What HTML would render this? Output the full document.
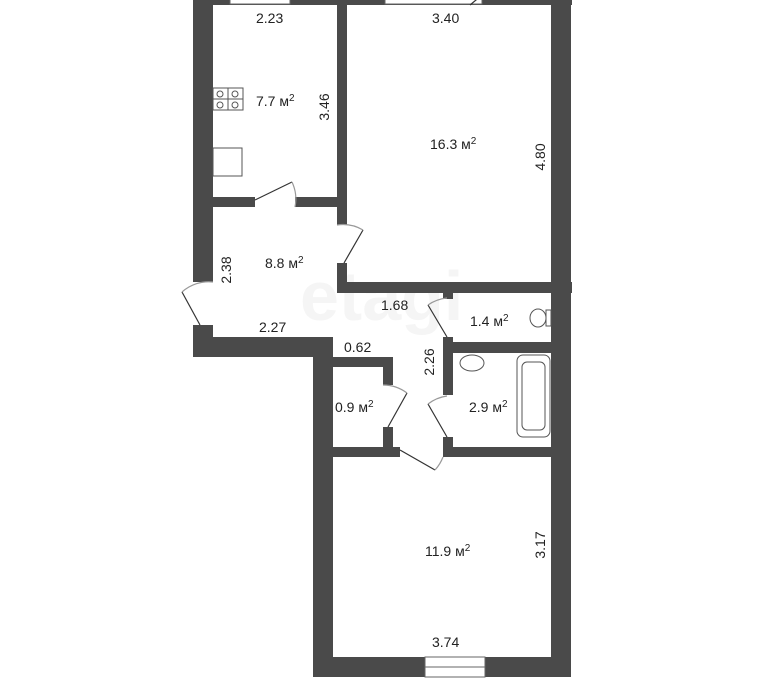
<!DOCTYPE html>
<html><head><meta charset="utf-8"><style>
html,body{margin:0;padding:0;background:#fff;width:768px;height:688px;overflow:hidden}
svg{display:block}
text{font-family:"Liberation Sans",sans-serif;font-size:14px;fill:#222}
</style></head><body>
<svg width="768" height="688" viewBox="0 0 768 688" xmlns="http://www.w3.org/2000/svg">
<text x="300" y="320" style="font-size:70px;fill:#f5f5f5;font-weight:bold">etagi</text>
<g fill="#4a4a4a">
<rect x="193" y="0" width="379" height="5"/>
<rect x="193" y="0" width="20" height="282"/>
<rect x="193" y="325" width="20" height="32"/>
<rect x="337" y="0" width="10" height="225"/>
<rect x="337" y="263" width="10" height="30"/>
<rect x="213" y="197" width="42" height="10"/>
<rect x="295" y="197" width="42" height="10"/>
<rect x="337" y="282" width="235" height="11"/>
<rect x="551" y="0" width="20" height="677"/>
<rect x="193" y="337" width="140" height="20"/>
<rect x="313" y="337" width="20" height="340"/>
<rect x="333" y="357" width="60" height="10"/>
<rect x="383" y="357" width="10" height="28"/>
<rect x="383" y="427" width="10" height="30"/>
<rect x="333" y="447" width="67" height="10"/>
<rect x="443" y="293" width="10" height="6"/>
<rect x="443" y="337" width="10" height="58"/>
<rect x="453" y="342" width="98" height="11"/>
<rect x="443" y="437" width="10" height="20"/>
<rect x="443" y="447" width="108" height="10"/>
<rect x="313" y="657" width="258" height="20"/>
</g>
<g fill="#fff" stroke="#666" stroke-width="1">
<rect x="230" y="-1" width="60" height="5"/>
<rect x="385" y="-1" width="97" height="5"/>
<rect x="425" y="657" width="60" height="20"/>
<line x1="425" y1="667" x2="485" y2="667"/>
</g>
<g fill="none" stroke="#333" stroke-width="1.2">
<line x1="255" y1="200" x2="292" y2="182"/><path d="M292 182 A40 40 0 0 1 295 207" stroke="#999"/>
<line x1="344" y1="263" x2="363" y2="230"/><path d="M363 230 A40 40 0 0 0 337 225" stroke="#999"/>
<line x1="200" y1="325" x2="182" y2="292"/><path d="M182 292 A40 40 0 0 1 213 282" stroke="#999"/>
<line x1="447" y1="337" x2="428" y2="305"/><path d="M428 305 A40 40 0 0 1 447 298" stroke="#999"/>
<line x1="388" y1="427" x2="407" y2="393"/><path d="M407 393 A40 40 0 0 0 383 385" stroke="#999"/>
<line x1="447" y1="437" x2="428" y2="404"/><path d="M428 404 A40 40 0 0 1 447 396" stroke="#999"/>
<line x1="400" y1="450" x2="435" y2="470"/><path d="M435 470 A40 40 0 0 0 443 457" stroke="#999"/>
<line x1="470" y1="5" x2="482" y2="-5"/>
</g>
<g fill="none" stroke="#555" stroke-width="1">
<rect x="213" y="88" width="30" height="22"/><line x1="228" y1="88" x2="228" y2="110"/><line x1="213" y1="99" x2="243" y2="99"/>
<circle cx="220" cy="94" r="3"/><circle cx="235" cy="94" r="3"/><circle cx="220" cy="105" r="3"/><circle cx="235" cy="105" r="3"/>
<rect x="213" y="148" width="29" height="28"/>
<ellipse cx="538" cy="318" rx="8" ry="9"/><rect x="546" y="310" width="5" height="16"/>
<ellipse cx="472" cy="363" rx="12" ry="8"/>
<rect x="517" y="355" width="33" height="82" rx="6"/><rect x="522" y="362" width="23" height="68" rx="5"/>
</g>
<text x="256" y="23">2.23</text>
<text x="432" y="23">3.40</text>
<text x="256" y="106">7.7 м<tspan dy="-5" style="font-size:10px">2</tspan></text>
<text x="430" y="149">16.3 м<tspan dy="-5" style="font-size:10px">2</tspan></text>
<text x="265" y="268">8.8 м<tspan dy="-5" style="font-size:10px">2</tspan></text>
<text x="381" y="310">1.68</text>
<text x="470" y="326">1.4 м<tspan dy="-5" style="font-size:10px">2</tspan></text>
<text x="259" y="332">2.27</text>
<text x="344" y="352">0.62</text>
<text x="335" y="412">0.9 м<tspan dy="-5" style="font-size:10px">2</tspan></text>
<text x="469" y="412">2.9 м<tspan dy="-5" style="font-size:10px">2</tspan></text>
<text x="425" y="556">11.9 м<tspan dy="-5" style="font-size:10px">2</tspan></text>
<text x="432" y="647">3.74</text>
<text transform="translate(329,107) rotate(-90)" text-anchor="middle">3.46</text>
<text transform="translate(545,157) rotate(-90)" text-anchor="middle">4.80</text>
<text transform="translate(231,270) rotate(-90)" text-anchor="middle">2.38</text>
<text transform="translate(434,362) rotate(-90)" text-anchor="middle">2.26</text>
<text transform="translate(545,545) rotate(-90)" text-anchor="middle">3.17</text>
</svg>
</body></html>
